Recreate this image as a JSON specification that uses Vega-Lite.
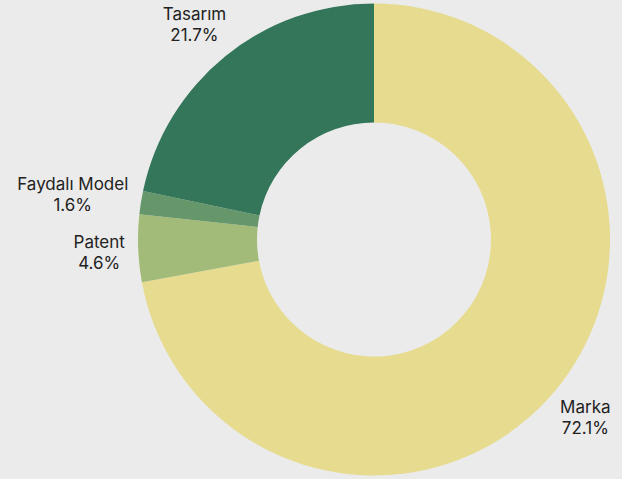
{
  "$schema": "https://vega.github.io/schema/vega-lite/v6.json",
  "autosize": {"type": "none"},
  "padding": {"left": 126, "top": 0, "right": 0, "bottom": 0},
  "width": 496,
  "height": 479,
  "background": "#ebebeb",
  "view": {"stroke": null},
  "data": {"values": [
    {"category": "Marka", "percent": 72.1},
    {"category": "Patent", "percent": 4.6},
    {"category": "Faydalı Model", "percent": 1.6},
    {"category": "Tasarım", "percent": 21.7}
  ]},
  "transform": [
    {"calculate": "[datum.category, format(datum.percent, '.1f') + '%']", "as": "label"},
    {"calculate": "indexof(['Marka', 'Patent', 'Faydalı Model', 'Tasarım'], datum.category)", "as": "k"}
  ],
  "encoding": {
    "theta": {"field": "percent", "type": "quantitative", "stack": true},
    "color": {
      "field": "category", "type": "nominal",
      "scale": {"domain": ["Marka", "Patent", "Faydalı Model", "Tasarım"], "range": ["#e6db8e", "#a3bb78", "#66976a", "#34765a"]},
      "legend": null
    },
    "order": {"field": "k", "type": "quantitative", "sort": "ascending"}
  },
  "layer": [
    {"mark": {"type": "arc", "outerRadius": 236, "innerRadius": 117}},
    {"mark": {"type": "text", "radius": 275, "dy": -7, "fontSize": 17, "font": "Inter", "fill": "#222222", "lineHeight": 21, "align": "center", "baseline": "middle"},
     "encoding": {"text": {"field": "label"}, "opacity": {"condition": {"test": "datum.category === 'Marka' || datum.category === 'Patent'", "value": 1}, "value": 0}}},
    {"mark": {"type": "text", "radius": 285, "dy": -3, "fontSize": 17, "font": "Inter", "fill": "#222222", "lineHeight": 21, "align": "center", "baseline": "middle"},
     "encoding": {"text": {"field": "label"}, "opacity": {"condition": {"test": "datum.category === 'Tasarım'", "value": 1}, "value": 0}}},
    {"mark": {"type": "text", "radius": 305, "dy": -7, "fontSize": 17, "font": "Inter", "fill": "#222222", "lineHeight": 21, "align": "center", "baseline": "middle"},
     "encoding": {"text": {"field": "label"}, "opacity": {"condition": {"test": "datum.category === 'Faydalı Model'", "value": 1}, "value": 0}}}
  ]
}
